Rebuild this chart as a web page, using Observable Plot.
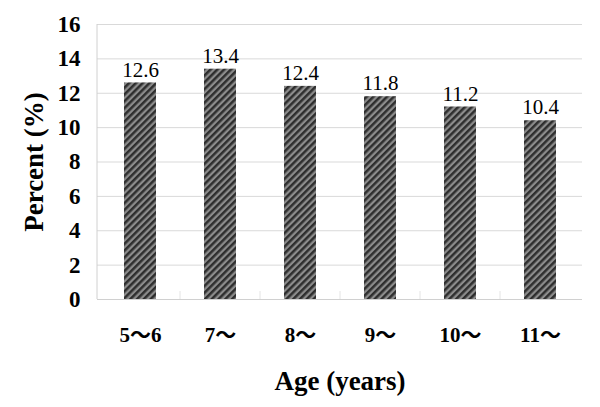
<!DOCTYPE html>
<html>
<head>
<meta charset="utf-8">
<script src="https://cdn.jsdelivr.net/npm/d3@7"></script>
<script src="https://cdn.jsdelivr.net/npm/@observablehq/plot@0.6"></script>
<style>
  html, body { margin: 0; padding: 0; background: #fff; overflow: hidden; }
  #chart { width: 600px; height: 407px; }
  #chart svg { display: block; }
</style>
</head>
<body>
<div id="chart"></div>
<script>
const categories = ["5～6", "7～", "8～", "9～", "10～", "11～"];
const values = [12.6, 13.4, 12.4, 11.8, 11.2, 10.4];
const yTicks = [0, 2, 4, 6, 8, 10, 12, 14, 16];

const data = categories.map((c, i) => ({ age: c, pct: values[i] }));
const serif = "'Liberation Serif', 'Noto Sans CJK JP', 'DejaVu Serif', serif";

const plot = Plot.plot({
  width: 600,
  height: 407,
  marginLeft: 97,
  marginRight: 18,
  marginTop: 24,
  marginBottom: 108,
  style: { fontFamily: serif, background: "#fff", color: "#000" },
  x: { domain: categories, paddingInner: 0.6, paddingOuter: 0.3, label: null },
  y: { domain: [0, 16], ticks: yTicks, label: null },
  marks: [
    Plot.gridY(yTicks, { stroke: "#d9d9d9", strokeOpacity: 1 }),
    Plot.barY(data, { x: "age", y: "pct", fill: "url(#diagStripes)" }),
    Plot.ruleY([0], { stroke: "#d0d0d0" }),
    Plot.text(data, {
      x: "age", y: "pct", text: d => d.pct.toFixed(1), dy: -13,
      fontSize: 21, fill: "#000", fontFamily: serif
    }),
    Plot.axisY({
      ticks: yTicks, tickSize: 0, tickPadding: 17, fontSize: 23,
      fontWeight: "bold", label: null
    }),
    Plot.axisX({
      tickSize: 0, tickPadding: 28, fontSize: 21, fontWeight: "bold", label: null
    }),
    Plot.axisY({
      ticks: [], tickSize: 0, label: "Percent (%)", labelAnchor: "center",
      labelArrow: "none", labelOffset: 74, fontSize: 27, fontWeight: "bold"
    }),
    Plot.axisX({
      ticks: [], tickSize: 0, label: "Age (years)", labelAnchor: "center",
      labelArrow: "none", labelOffset: 90, fontSize: 27, fontWeight: "bold"
    })
  ]
});

// define the diagonal stripe pattern
const ns = "http://www.w3.org/2000/svg";
const defs = document.createElementNS(ns, "defs");
const pat = document.createElementNS(ns, "pattern");
pat.setAttribute("id", "diagStripes");
pat.setAttribute("patternUnits", "userSpaceOnUse");
pat.setAttribute("width", "4.8");
pat.setAttribute("height", "4.8");
pat.setAttribute("patternTransform", "rotate(-45)");
const bg = document.createElementNS(ns, "rect");
bg.setAttribute("width", "4.8"); bg.setAttribute("height", "4.8");
bg.setAttribute("fill", "#8c8c8c");
const st = document.createElementNS(ns, "rect");
st.setAttribute("width", "4.8"); st.setAttribute("height", "2.5");
st.setAttribute("fill", "#2e2e2e");
pat.appendChild(bg); pat.appendChild(st);
defs.appendChild(pat);
plot.insertBefore(defs, plot.firstChild);

// left axis line and light category separators on the baseline
const ys = plot.scale("y");
const xs = plot.scale("x");
const line = document.createElementNS(ns, "line");
line.setAttribute("x1", 97); line.setAttribute("x2", 97);
line.setAttribute("y1", ys.apply(0)); line.setAttribute("y2", ys.apply(16));
line.setAttribute("stroke", "#d0d0d0");
plot.appendChild(line);
categories.slice(1).forEach(c => {
  const x = xs.apply(c) - xs.step * xs.paddingInner / 2;
  const t = document.createElementNS(ns, "line");
  t.setAttribute("x1", x); t.setAttribute("x2", x);
  t.setAttribute("y1", ys.apply(0) - 8); t.setAttribute("y2", ys.apply(0));
  t.setAttribute("stroke", "#e4e4e4");
  plot.appendChild(t);
});

document.getElementById("chart").appendChild(plot);
</script>
</body>
</html>
